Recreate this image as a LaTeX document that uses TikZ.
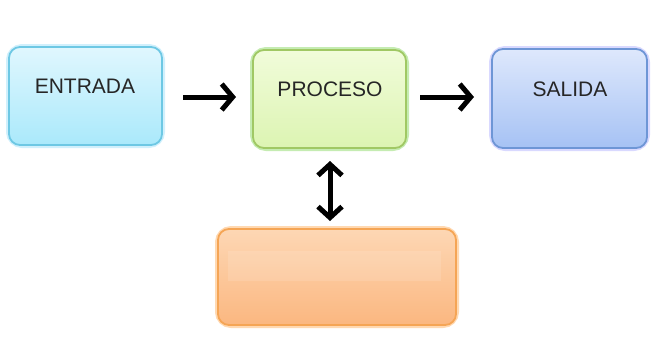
\documentclass[tikz,border=0pt]{standalone}
\usepackage{fontspec}
\setmainfont{Liberation Sans}
\usetikzlibrary{arrows.meta}
\tikzset{
  box/.style={rounded corners=11pt, line width=1.8pt, minimum width=#1},
  lbl/.style={font=\fontsize{21}{23}\selectfont, text=black!85},
  glowc/.style={draw=#1, line width=6pt, opacity=0.3, rounded corners=13pt},
  arr/.style={line width=5pt, -{Straight Barb[length=11pt, width=26pt, line width'=5pt]}},
  darr/.style={line width=5pt, {Straight Barb[length=11pt, width=24pt, line width'=5pt]}-{Straight Barb[length=11pt, width=24pt, line width'=5pt]}}
}
\begin{document}
\begin{tikzpicture}[x=1pt,y=-1pt]
\useasboundingbox (0,0) rectangle (660,349);
% glows
\draw[glowc={cyan!60}] (9,47) rectangle (162,145);
\draw[glowc={green!50!olive}] (253,50) rectangle (406,148);
\draw[glowc={blue!50}] (492,49) rectangle (647,148);
\draw[glowc={orange}] (218,229) rectangle (456,325);
% boxes
\node[box=153pt, minimum height=98pt, draw={rgb,255:red,110;green,200;blue,228}, top color={rgb,255:red,224;green,247;blue,254}, bottom color={rgb,255:red,170;green,233;blue,251}] (entrada) at (85.5,96) {};
\node[box=153pt, minimum height=98pt, draw={rgb,255:red,160;green,200;blue,100}, top color={rgb,255:red,241;green,252;blue,218}, bottom color={rgb,255:red,220;green,244;blue,178}] (proceso) at (329.5,99) {};
\node[box=155pt, minimum height=99pt, draw={rgb,255:red,110;green,150;blue,214}, top color={rgb,255:red,222;green,232;blue,252}, bottom color={rgb,255:red,166;green,194;blue,244}] (salida) at (569.5,98.5) {};
\node[box=238pt, minimum height=96pt, draw={rgb,255:red,245;green,165;blue,85}, top color={rgb,255:red,253;green,215;blue,180}, bottom color={rgb,255:red,251;green,183;blue,128}] (bottom) at (337,277) {};
\fill[white, opacity=0.12] (228,251) rectangle (441,281);
% labels
\node[lbl] (t1) at (85,86) {ENTRADA};
\node[lbl] (t2) at (330,89) {PROCESO};
\node[lbl] (t3) at (570,89) {SALIDA};
% arrows
\coordinate (a1s) at (183,97); \coordinate (a1e) at (236,97);
\coordinate (a2s) at (420,97); \coordinate (a2e) at (474,97);
\coordinate (vs) at (330,161); \coordinate (ve) at (330,221);
\draw[arr] (a1s) -- (a1e);
\draw[arr] (a2s) -- (a2e);
\draw[darr] (vs) -- (ve);
\end{tikzpicture}
\end{document}
